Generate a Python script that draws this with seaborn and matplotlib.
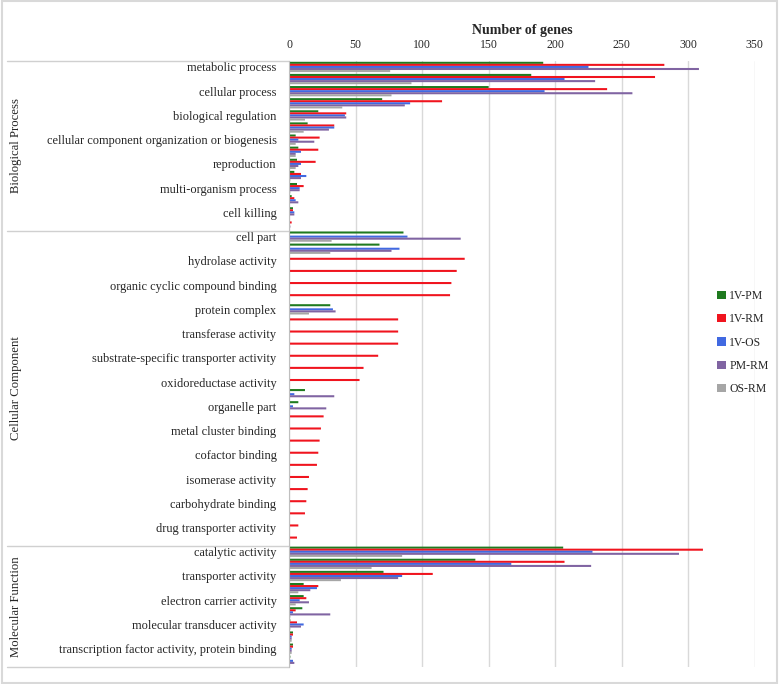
import matplotlib

matplotlib.use("Agg")
import matplotlib.pyplot as plt
from matplotlib.lines import Line2D
from matplotlib.patches import Rectangle
import matplotlib.transforms as mtransforms
import pandas as pd
import seaborn as sns

# GO terms, top to bottom. Excel only printed every other label.
BP_TERMS = [
    "metabolic process", "single-organism process", "cellular process",
    "response to stimulus", "biological regulation", "localization",
    "cellular component organization or biogenesis", "regulation of biological process",
    "reproduction", "developmental process", "multi-organism process", "signaling",
    "cell killing", "detoxification",
]
CC_TERMS = [
    "cell part", "cell", "hydrolase activity", "ion binding",
    "organic cyclic compound binding", "heterocyclic compound binding", "protein complex",
    "small molecule binding", "transferase activity", "carbohydrate derivative binding",
    "substrate-specific transporter activity", "transmembrane transporter activity",
    "oxidoreductase activity", "membrane", "organelle part", "lyase activity",
    "metal cluster binding", "ligase activity", "cofactor binding",
    "enzyme regulator activity", "isomerase activity", "lipid binding",
    "carbohydrate binding", "nucleotide binding", "drug transporter activity",
    "kinase activity",
]
MF_TERMS = [
    "catalytic activity", "binding", "transporter activity",
    "structural molecule activity", "electron carrier activity", "antioxidant activity",
    "molecular transducer activity", "nutrient reservoir activity",
    "transcription factor activity, protein binding", "molecular function regulator",
]
GROUPS = ["Biological Process", "Cellular Component", "Molecular Function"]

SERIES = ["1V-PM", "1V-RM", "1V-OS", "PM-RM", "OS-RM"]
COLORS = ["#1f7a1f", "#f0141e", "#4169e1", "#8064a2", "#a6a6a6"]

V_PM = [191, 182, 150, 70, 22, 14, 5, 7, 6, 4, 6, 2, 3, 0,
        86, 68, 0, 0, 0, 0, 31, 0, 0, 0, 0, 0, 0, 12, 7, 0, 0, 0, 0, 0, 0, 0, 0, 0, 0, 0,
        206, 140, 71, 11, 11, 10, 1, 3, 3, 1]
V_RM = [282, 275, 239, 115, 43, 34, 23, 22, 20, 9, 11, 4, 3, 2,
        0, 0, 132, 126, 122, 121, 0, 82, 82, 82, 67, 56, 53, 0, 0, 26, 24, 23, 22, 21,
        15, 14, 13, 12, 7, 6,
        311, 207, 108, 22, 13, 5, 6, 3, 3, 0]
V_OS = [225, 207, 192, 91, 42, 34, 7, 9, 9, 13, 8, 5, 4, 0,
        89, 83, 0, 0, 0, 0, 33, 0, 0, 0, 0, 0, 0, 4, 3, 0, 0, 0, 0, 0, 0, 0, 0, 0, 0, 0,
        228, 167, 85, 21, 8, 3, 11, 2, 2, 3]
PM_RM = [308, 230, 258, 87, 43, 30, 19, 5, 7, 9, 8, 7, 4, 1,
         129, 77, 0, 0, 0, 0, 35, 0, 0, 0, 0, 0, 0, 34, 28, 0, 0, 0, 0, 0, 0, 0, 0, 0, 0, 0,
         293, 227, 82, 16, 15, 31, 9, 2, 2, 4]
OS_RM = [76, 92, 77, 40, 12, 11, 5, 5, 5, 1, 1, 0, 0, 0,
         32, 31, 0, 0, 0, 0, 15, 0, 0, 0, 0, 0, 0, 0, 0, 0, 0, 0, 0, 0, 0, 0, 0, 0, 0, 0,
         85, 62, 39, 7, 5, 1, 1, 2, 2, 0]


def build_frame() -> pd.DataFrame:
    terms = BP_TERMS + CC_TERMS + MF_TERMS
    rows = []
    for name, values in zip(SERIES, [V_PM, V_RM, V_OS, PM_RM, OS_RM]):
        for term, val in zip(terms, values):
            rows.append({"term": term, "comparison": name, "genes": val})
    return pd.DataFrame(rows)


def main() -> None:
    sns.set_theme(style="white")
    plt.rcParams["font.family"] = ["Liberation Serif", "DejaVu Serif"]

    terms = BP_TERMS + CC_TERMS + MF_TERMS
    data = build_frame()

    fig = plt.figure(figsize=(7.79, 6.84), dpi=100)
    ax = fig.add_axes([0.371, 0.025, 0.598, 0.886])

    sns.barplot(
        data=data, x="genes", y="term", hue="comparison",
        order=terms, hue_order=SERIES, palette=COLORS,
        orient="h", width=0.85, saturation=1, linewidth=0, edgecolor="none",
        snap=False, ax=ax,
    )

    ax.set_xlim(0, 350)
    ax.set_ylim(len(terms) - 0.5, -0.5)
    ax.set_xticks(range(0, 351, 50))
    ax.xaxis.tick_top()
    ax.xaxis.set_label_position("top")
    ax.set_xlabel("Number of genes", fontsize=10, fontweight="bold", labelpad=4)
    ax.set_ylabel("")
    ax.set_yticks(range(0, len(terms), 2))
    ax.set_yticklabels(terms[::2])
    ax.tick_params(axis="x", length=0, pad=7, labelsize=8.5)
    ax.tick_params(axis="y", length=0, pad=9, labelsize=8.9)
    ax.grid(axis="x", color="#d9d9d9", linewidth=1)
    ax.set_axisbelow(True)
    for side in ["top", "right", "bottom"]:
        ax.spines[side].set_visible(False)
    ax.spines["left"].set_color("#bfbfbf")
    ax.spines["left"].set_linewidth(0.8)

    # group separators and labels in the category area
    trans = mtransforms.blended_transform_factory(ax.transAxes, ax.transData)
    sizes = [len(BP_TERMS), len(CC_TERMS), len(MF_TERMS)]
    start = -0.5
    ax.add_line(Line2D([-0.605, 0], [start, start], transform=trans,
                       color="#d0d0d0", linewidth=1, clip_on=False))
    for group, n in zip(GROUPS, sizes):
        end = start + n
        ax.add_line(Line2D([-0.605, 0], [end, end], transform=trans,
                           color="#d0d0d0", linewidth=1, clip_on=False))
        ax.text(-0.585, (start + end) / 2, group, transform=trans, rotation=90,
                ha="center", va="center", fontsize=9.2)
        start = end

    handles, labels = ax.get_legend_handles_labels()
    ax.legend(handles, labels, loc="center left", bbox_to_anchor=(0.897, 0.535),
              frameon=False, fontsize=8.5, handlelength=0.7, handleheight=0.7,
              handletextpad=0.3, labelspacing=0.95)

    fig.patches.append(Rectangle((0.002, 0.002), 0.996, 0.996, transform=fig.transFigure,
                                 fill=False, edgecolor="#d9d9d9", linewidth=1.5))

    fig.savefig("out.png", dpi=100)
    plt.close(fig)


if __name__ == "__main__":
    main()
